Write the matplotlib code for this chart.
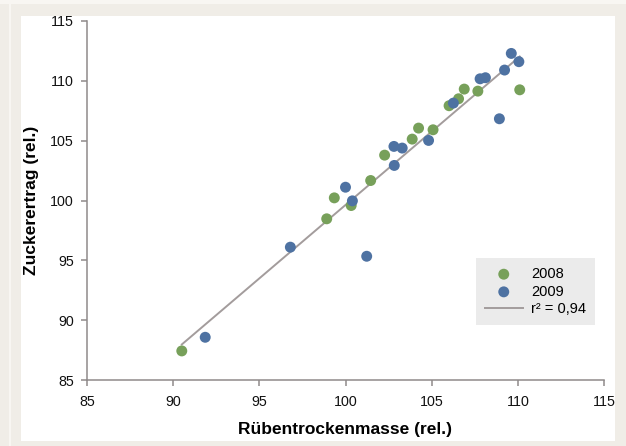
import matplotlib

matplotlib.use("Agg")
import matplotlib.pyplot as plt
import numpy as np
from matplotlib.patches import Rectangle

plt.rcParams["font.family"] = ["Liberation Sans", "DejaVu Sans"]

# relative values (beet dry mass vs. sugar yield)
mass_2008 = [90.50, 98.91, 99.35, 100.33, 101.46, 102.27, 103.87, 104.24,
             105.08, 106.01, 106.56, 106.89, 107.68, 110.11]
sugar_2008 = [87.43, 98.47, 100.22, 99.58, 101.67, 103.79, 105.13, 106.05,
              105.91, 107.92, 108.50, 109.31, 109.14, 109.25]

mass_2009 = [91.86, 96.80, 100.00, 100.40, 101.23, 102.83, 102.81, 103.29,
             104.82, 106.26, 107.81, 108.12, 108.93, 109.23, 109.62, 110.06]
sugar_2009 = [88.57, 96.10, 101.11, 99.97, 95.34, 102.93, 104.52, 104.38,
              105.02, 108.14, 110.17, 110.26, 106.83, 110.90, 112.29, 111.60]

ticks = [85, 90, 95, 100, 105, 110, 115]
r2_label = "r² = 0,94"

GREEN = "#77a05a"
BLUE = "#4e72a2"
LINE = "#a39c9c"
AXIS = "#8f8a8a"

fig = plt.figure(figsize=(6.26, 4.46), dpi=100)
fig.patch.set_facecolor("#f0ede7")

# white panel with the light strips of the frame (kept behind the axes)
for x0, y0, w, h, c in [
    (0, 1 - 4 / 446, 1, 4 / 446, "#f8f6f2"),
    (9 / 626, 0, 2 / 626, 1, "#f8f6f2"),
    (21 / 626, 5 / 446, (615 - 21) / 626, (430 - 5) / 446, "white"),
]:
    fig.patches.append(Rectangle((x0, y0), w, h, transform=fig.transFigure,
                                 facecolor=c, edgecolor="none", zorder=-10))

ax = fig.add_axes([87 / 626, 1 - 380 / 446, (604 - 87) / 626, (380 - 21) / 446])
ax.set_facecolor("none")

# linear fit over both years
all_x = np.array(mass_2008 + mass_2009)
all_y = np.array(sugar_2008 + sugar_2009)
k, d = np.polyfit(all_x, all_y, 1)
xs = np.array([all_x.min(), all_x.max()])
ax.plot(xs, k * xs + d, color=LINE, lw=1.4, label=r2_label, zorder=1)

ax.scatter(mass_2008, sugar_2008, s=62, color=GREEN, edgecolors="none",
           label="2008", zorder=2)
ax.scatter(mass_2009, sugar_2009, s=62, color=BLUE, edgecolors="none",
           label="2009", zorder=3)

ax.set_xlim(85, 115)
ax.set_ylim(85, 115)
ax.set_xticks(ticks)
ax.set_yticks(ticks)
ax.tick_params(colors=AXIS, labelcolor="#111111", labelsize=10.3, length=4.5, width=1.1)
ax.tick_params(axis="y", pad=5)
ax.tick_params(axis="x", pad=6)

for side in ["top", "right"]:
    ax.spines[side].set_visible(False)
for side in ["left", "bottom"]:
    ax.spines[side].set_color(AXIS)
    ax.spines[side].set_linewidth(1.1)

ax.set_xlabel("Rübentrockenmasse (rel.)", fontsize=12.5, fontweight="bold", labelpad=10)
ax.set_ylabel("Zuckerertrag (rel.)", fontsize=12.5, fontweight="bold", labelpad=8)

handles, labels = ax.get_legend_handles_labels()
order = [labels.index("2008"), labels.index("2009"), labels.index(r2_label)]
leg = ax.legend([handles[i] for i in order], [labels[i] for i in order],
                loc="lower right", bbox_to_anchor=(0.983, 0.153), fontsize=10.5,
                frameon=True, fancybox=False, handlelength=2.6, handletextpad=0.6,
                labelspacing=0.25, borderpad=0.6, borderaxespad=0.0,
                scatterpoints=1)
leg.get_frame().set_facecolor("#ebebeb")
leg.get_frame().set_edgecolor("none")
leg.get_frame().set_alpha(1)

fig.savefig("out.png", dpi=100, facecolor=fig.get_facecolor())
